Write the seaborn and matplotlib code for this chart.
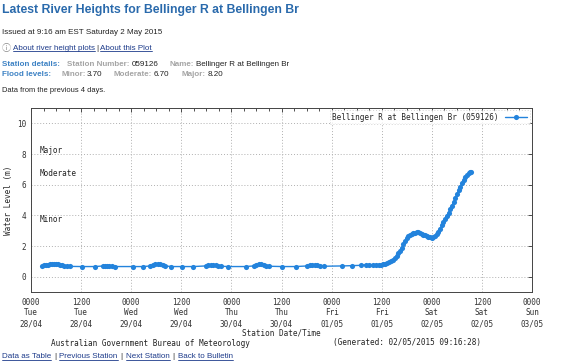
import pandas as pd
import seaborn as sns
import matplotlib.dates as mdates
from matplotlib import pyplot as plt
from matplotlib.lines import Line2D

# hours since Tue 28/04/2015 00:00 and water level (m)
hours = [2.6, 3.0, 3.5, 4.0, 4.5, 5.0, 5.5, 6.0, 6.5, 7.0, 7.5, 8.0, 8.6, 9.4,
         12.2, 15.4, 17.3, 17.8, 18.3, 18.8, 19.4, 20.2, 24.5, 26.9,
         28.6, 29.2, 29.8, 30.4, 31.0, 31.6, 32.2, 33.6, 36.2, 38.9,
         41.8, 42.4, 43.0, 43.6, 44.2, 44.8, 45.4, 47.3, 51.4,
         53.3, 53.9, 54.5, 55.1, 55.7, 56.3, 56.9, 60.2, 63.4,
         66.2, 66.8, 67.4, 68.0, 68.6, 69.2, 70.1, 74.6, 77.0, 79.0, 80.2,
         81.0, 82.0, 82.6,
         83.3, 83.8, 84.3, 84.8, 85.3, 85.8, 86.3, 86.8, 87.2, 87.6, 88.0,
         88.4, 88.8, 89.2, 89.6, 90.0, 90.4, 90.8, 91.2, 91.6, 92.0, 92.4,
         92.8, 93.2, 93.6, 94.0, 94.4, 94.8, 95.2, 95.6, 96.0, 96.4, 96.8,
         97.2, 97.6, 98.0, 98.4, 98.8, 99.2, 99.6, 100.0, 100.4, 100.8,
         101.2, 101.6, 102.0, 102.4, 102.8, 103.2, 103.6, 104.0, 104.4,
         104.8, 105.2, 105.5]
levels = [0.70, 0.74, 0.77, 0.79, 0.80, 0.81, 0.82, 0.81, 0.80, 0.78, 0.75, 0.72, 0.68, 0.67,
          0.66, 0.66, 0.70, 0.72, 0.72, 0.72, 0.70, 0.66, 0.66, 0.66,
          0.70, 0.76, 0.80, 0.82, 0.80, 0.76, 0.70, 0.66, 0.66, 0.66,
          0.70, 0.76, 0.78, 0.76, 0.75, 0.72, 0.68, 0.66, 0.66,
          0.70, 0.76, 0.80, 0.80, 0.76, 0.72, 0.68, 0.66, 0.66,
          0.70, 0.76, 0.77, 0.75, 0.74, 0.72, 0.68, 0.70, 0.72, 0.74, 0.78,
          0.76, 0.77, 0.78,
          0.78, 0.79, 0.81, 0.84, 0.88, 0.93, 1.00, 1.10, 1.22, 1.36, 1.52,
          1.70, 1.90, 2.12, 2.32, 2.50, 2.62, 2.71, 2.78, 2.83, 2.87, 2.89,
          2.89, 2.86, 2.81, 2.75, 2.69, 2.64, 2.59, 2.56, 2.55, 2.58, 2.66,
          2.78, 2.94, 3.14, 3.36, 3.57, 3.77, 3.97, 4.17, 4.40, 4.63,
          4.87, 5.12, 5.37, 5.62, 5.87, 6.10, 6.30, 6.48, 6.62,
          6.73, 6.80, 6.83]

flood_names = ['Major', 'Moderate', 'Minor']
flood_levels = [8.2, 6.7, 3.7]
series_name = 'Bellinger R at Bellingen Br (059126)'

base = pd.Timestamp('2015-04-28 00:00')
df = pd.DataFrame({'time': base + pd.to_timedelta(hours, unit='h'),
                   'level': levels})

sns.set_theme(style='white')
plt.rcParams['font.family'] = ['DejaVu Sans']
mono = 'DejaVu Sans Mono'
blue = '#2383dc'

W, H = 580, 364
fig = plt.figure(figsize=(W / 100, H / 100), dpi=100)
fig.patch.set_facecolor('white')
ax = fig.add_axes([31 / W, 1 - 292 / H, 501 / W, 184 / H])

sns.lineplot(data=df, x='time', y='level', ax=ax, color=blue, lw=1.0,
             marker='o', markersize=3.7, markeredgewidth=0, label=series_name)

ax.set_xlim(base, base + pd.Timedelta(days=5))
ax.set_ylim(-1, 11)
ax.set_yticks(range(0, 11, 2))
ax.xaxis.set_major_locator(mdates.HourLocator(byhour=[0, 12]))
ax.xaxis.set_minor_locator(mdates.HourLocator(interval=3))
ax.xaxis.set_major_formatter(mdates.DateFormatter('%H%M\n%a\n%d/%m'))
ax.grid(True, which='major', color='#b0b0b0', linestyle=(0, (1, 2)), lw=0.7)
ax.tick_params(which='both', direction='in', top=True, right=True,
               labelsize=5.5, colors='#333333', length=3, width=0.6)
ax.tick_params(which='minor', length=2)
ax.tick_params(axis='x', pad=4)
for lab in ax.get_xticklabels() + ax.get_yticklabels():
    lab.set_family(mono)
    lab.set_linespacing(1.25)
for s in ax.spines.values():
    s.set_color('#444444')
    s.set_linewidth(0.7)

ax.set_xlabel('Station Date/Time', family=mono, fontsize=5.5, labelpad=0)
ax.set_ylabel('Water Level (m)', family=mono, fontsize=5.5, labelpad=3)

for name, lvl in zip(flood_names, flood_levels):
    ax.text(0.018, lvl, name, transform=ax.get_yaxis_transform(),
            family=mono, fontsize=5.5, va='center', ha='left', color='#222222')

leg = ax.legend(loc='upper right', markerfirst=False,
                prop={'family': mono, 'size': 5.5}, frameon=True,
                handlelength=3, borderpad=0.3, borderaxespad=0.3,
                fancybox=False)
leg.get_frame().set_edgecolor('#c8c8c8')
leg.get_frame().set_linestyle((0, (1, 2)))
leg.get_frame().set_linewidth(0.7)


def ftext(x, y, s, **kw):
    kw.setdefault('family', 'Liberation Sans')
    kw.setdefault('fontsize', 5.8)
    return fig.text(x / W, 1 - y / H, s, va='center', ha='left', **kw)


title_c = '#2a6aac'
link_c = '#1c3a8a'
lab_c = '#3d82c4'
grey_c = '#a5a5a5'
dark = '#222222'

ftext(2, 10, 'Latest River Heights for Bellinger R at Bellingen Br',
      fontsize=8.8, weight='bold', color=title_c)
ftext(2, 33, 'Issued at 9:16 am EST Saturday 2 May 2015', color=dark)
ftext(2, 48, '\u24d8', family=['DejaVu Sans', 'Noto Sans CJK JP', 'Noto Sans'],
      fontsize=6.5, color='#888888')
links = [ftext(13, 48, 'About river height plots', color=link_c)]
ftext(96, 48, '|', color=dark)
links.append(ftext(100, 48, 'About this Plot', color=link_c))

row1 = [(2, 'Station details:', lab_c, 'bold'), (67, 'Station Number:', grey_c, 'bold'),
        (132, '059126', dark, 'normal'), (169, 'Name:', grey_c, 'bold'),
        (196, 'Bellinger R at Bellingen Br', dark, 'normal')]
row2 = [(2, 'Flood levels:', lab_c, 'bold'), (61, 'Minor:', grey_c, 'bold'),
        (87, '3.70', dark, 'normal'), (114, 'Moderate:', grey_c, 'bold'),
        (154, '6.70', dark, 'normal'), (181, 'Major:', grey_c, 'bold'),
        (208, '8.20', dark, 'normal')]
for yy, row in [(64, row1), (74, row2)]:
    for xx, s, c, w in row:
        ftext(xx, yy, s, color=c, weight=w)

ftext(2, 91, 'Data from the previous 4 days.', fontsize=5.4, color=dark)

fig.text(150 / W, 1 - 343 / H, 'Australian Government Bureau of Meteorology',
         family=mono, fontsize=5.5, ha='center', va='center', color=dark)
fig.text(407 / W, 1 - 343 / H, '(Generated: 02/05/2015 09:16:28)',
         family=mono, fontsize=5.5, ha='center', va='center', color=dark)

bx = 2
bottom_links = ['Data as Table', 'Previous Station', 'Next Station', 'Back to Bulletin']
for i, s in enumerate(bottom_links):
    t = ftext(bx, 357, s, color=link_c)
    links.append(t)
    fig.canvas.draw()
    bx = t.get_window_extent().x1 + 3
    if i < len(bottom_links) - 1:
        sep = ftext(bx, 357, '|', color=dark)
        fig.canvas.draw()
        bx = sep.get_window_extent().x1 + 3

fig.canvas.draw()
for t in links:
    bb = t.get_window_extent()
    fig.add_artist(Line2D([bb.x0 / W, bb.x1 / W], [(bb.y0 + 0.5) / H] * 2,
                          color=t.get_color(), lw=0.6))

fig.savefig('out.png', dpi=100)
